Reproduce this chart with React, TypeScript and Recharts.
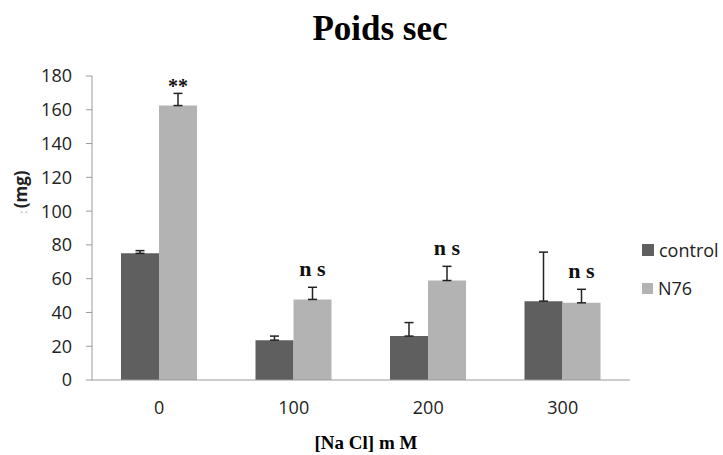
import React from 'react'
import { BarChart, Bar, XAxis, YAxis, ErrorBar, LabelList, Legend } from 'recharts'

const DOSES = ['0', '100', '200', '300']
const CONTROL = [75, 23.6, 26, 46.7]
const CONTROL_ERR = [1.6, 2.4, 8, 29]
const N76 = [162.5, 47.7, 58.9, 45.7]
const N76_ERR = [7.2, 7.2, 8.4, 8]
const NOTES = ['**', 'n s', 'n s', 'n s']
const Y_TICKS = [0, 20, 40, 60, 80, 100, 120, 140, 160, 180]

const data = DOSES.map((dose, i) => ({
  dose,
  control: CONTROL[i],
  controlErr: [0, CONTROL_ERR[i]],
  n76: N76[i],
  n76Err: [0, N76_ERR[i]],
  note: NOTES[i],
}))

const DARK = '#5f5f5f'
const LIGHT = '#b3b3b3'
const AXIS = '#9a9a9a'
const sans = '"Open Sans", "Liberation Sans", sans-serif'
const serif = '"Liberation Serif", "Times New Roman", serif'

function Note(props: any) {
  const { x, y, width, height, index, value } = props
  const i = index ?? NOTES.indexOf(value)
  const perUnit = N76[i] ? height / N76[i] : 0
  const errTop = y - N76_ERR[i] * perUnit
  const star = value === '**'
  return (
    <text
      x={x + width / 2}
      y={errTop - (star ? 0 : 11)}
      textAnchor="middle"
      fontFamily={serif}
      fontWeight="bold"
      fontSize={star ? 20 : 22}
      fill="#111"
    >
      {value}
    </text>
  )
}

function LegendBox() {
  const items = [
    { name: 'control', color: DARK, size: 12 },
    { name: 'N76', color: LIGHT, size: 11 },
  ]
  return (
    <div style={{ fontFamily: sans, fontSize: 18, color: '#222' }}>
      {items.map(it => (
        <div key={it.name} style={{ display: 'flex', alignItems: 'center', height: 38 }}>
          <span style={{ width: it.size, height: it.size, background: it.color, display: 'inline-block', marginRight: 5 }} />
          {it.name}
        </div>
      ))}
    </div>
  )
}

export default function App() {
  return (
    <div style={{ position: 'absolute', left: 0, top: 0, width: 723, height: 455, background: '#fff' }}>
      <BarChart
        width={723}
        height={455}
        data={data}
        margin={{ top: 76, right: 93, bottom: 45, left: 0 }}
        barCategoryGap={29}
        barGap={0}
      >
        <text x={380} y={40} textAnchor="middle" fontFamily={serif} fontWeight="bold" fontSize={35} fill="#000">
          Poids sec
        </text>
        <text x={366} y={449} textAnchor="middle" fontFamily={serif} fontWeight="bold" fontSize={19} fill="#000">
          [Na Cl] m M
        </text>
        <text transform="translate(27, 192) rotate(-90)" textAnchor="middle" fontFamily={sans} fontWeight="bold" fontSize={17} fill="#222">
          <tspan fontSize={10} fill="#888" fontWeight="normal">: </tspan>
          <tspan>(mg)</tspan>
        </text>
        <XAxis
          dataKey="dose"
          height={30}
          stroke={AXIS}
          tickLine={false}
          tickSize={0}
          tickMargin={21}
          tick={{ fill: '#222', fontSize: 18, fontFamily: sans }}
        />
        <YAxis
          width={92}
          domain={[0, 180]}
          ticks={Y_TICKS}
          interval={0}
          stroke={AXIS}
          tickSize={6}
          tickMargin={14}
          tick={{ fill: '#222', fontSize: 18, fontFamily: sans }}
        />
        <Legend
          layout="vertical"
          align="center"
          verticalAlign="middle"
          content={<LegendBox />}
          wrapperStyle={{ left: 642, top: 231, width: 'auto' }}
        />
        <Bar dataKey="control" name="control" fill={DARK} isAnimationActive={false}>
          <ErrorBar dataKey="controlErr" width={4.5} stroke="#222" strokeWidth={1.5} />
        </Bar>
        <Bar dataKey="n76" name="N76" fill={LIGHT} isAnimationActive={false}>
          <ErrorBar dataKey="n76Err" width={4.5} stroke="#222" strokeWidth={1.5} />
          <LabelList dataKey="note" content={<Note />} />
        </Bar>
      </BarChart>
    </div>
  )
}
